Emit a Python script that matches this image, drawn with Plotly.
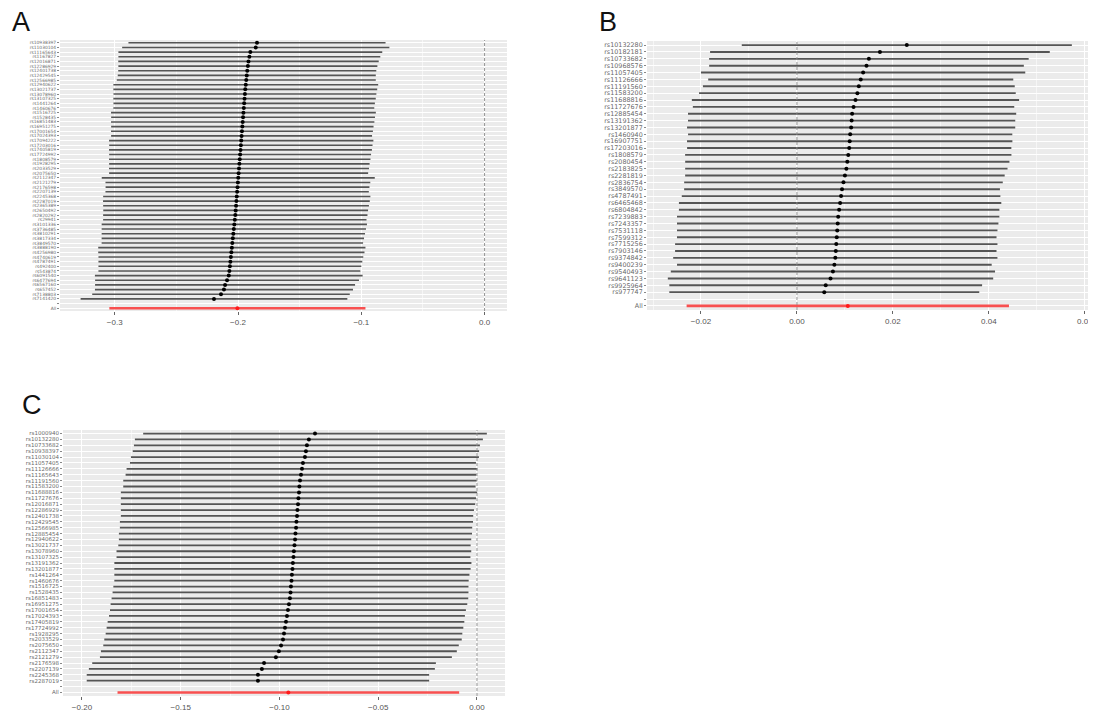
import plotly.graph_objects as go

# ---------------- Panel A ----------------
snps_a = ["rs10938397", "rs11030104", "rs11165643", "rs1167827", "rs12016871", "rs12286929",
          "rs12401738", "rs12429545", "rs12566985", "rs12940622", "rs13021737", "rs13078960",
          "rs13107325", "rs1441264", "rs1460676", "rs1516725", "rs1528435", "rs16851483",
          "rs16951275", "rs17001654", "rs17024393", "rs17094222", "rs17203016", "rs17405819",
          "rs17724992", "rs1808579", "rs1928295", "rs2033529", "rs2075650", "rs2112347",
          "rs2121279", "rs2176598", "rs2207139", "rs2245368", "rs2287019", "rs2365389",
          "rs2650492", "rs2820292", "rs29941", "rs3101336", "rs3736485", "rs3810291",
          "rs3817334", "rs3849570", "rs3888190", "rs4256980", "rs4740619", "rs4787491",
          "rs492400", "rs543874", "rs6091540", "rs6477694", "rs6567160", "rs657452",
          "rs7138803", "rs7141420"]
beta_a = [-0.1846, -0.1856, -0.1900, -0.1908, -0.1915, -0.1920, -0.1925, -0.1929, -0.1933, -0.1937,
          -0.1941, -0.1944, -0.1947, -0.1950, -0.1953, -0.1956, -0.1959, -0.1962, -0.1965, -0.1968,
          -0.1971, -0.1974, -0.1977, -0.1980, -0.1983, -0.1986, -0.1989, -0.1992, -0.1995, -0.1998,
          -0.2001, -0.2004, -0.2007, -0.2010, -0.2013, -0.2016, -0.2019, -0.2022, -0.2026, -0.2030,
          -0.2034, -0.2038, -0.2042, -0.2046, -0.2050, -0.2054, -0.2058, -0.2062, -0.2066, -0.2070,
          -0.2075, -0.2089, -0.2105, -0.2114, -0.2138, -0.2195]
se_a = [0.0532, 0.0553, 0.0546, 0.0542, 0.0539, 0.0536, 0.0534, 0.0534, 0.0536, 0.0548,
        0.0546, 0.0544, 0.0543, 0.0541, 0.0540, 0.0548, 0.0546, 0.0545, 0.0543, 0.0542,
        0.0540, 0.0547, 0.0545, 0.0544, 0.0542, 0.0541, 0.0539, 0.0538, 0.0536, 0.0565,
        0.0548, 0.0546, 0.0545, 0.0553, 0.0552, 0.0550, 0.0548, 0.0547, 0.0545, 0.0549,
        0.0547, 0.0545, 0.0543, 0.0541, 0.0553, 0.0551, 0.0548, 0.0546, 0.0544, 0.0542,
        0.0554, 0.0546, 0.0538, 0.0534, 0.0533, 0.0552]
all_a = (-0.2005, 0.0530)

# ---------------- Panel B ----------------
snps_b = ["rs10132280", "rs10182181", "rs10733682", "rs10968576", "rs11057405", "rs11126666",
          "rs11191560", "rs11583200", "rs11688816", "rs11727676", "rs12885454", "rs13191362",
          "rs13201877", "rs1460940", "rs16907751", "rs17203016", "rs1808579", "rs2080454",
          "rs2183825", "rs2281819", "rs2836754", "rs3849570", "rs4787491", "rs6465468",
          "rs6804842", "rs7239883", "rs7243357", "rs7531118", "rs7599312", "rs7715256",
          "rs7903146", "rs9374842", "rs9400239", "rs9540493", "rs9641123", "rs9925964",
          "rs977747"]
beta_b = [0.0229, 0.0173, 0.0150, 0.0145, 0.0138, 0.0133, 0.0129, 0.0126, 0.0122, 0.0118,
          0.0115, 0.0114, 0.0113, 0.0111, 0.0110, 0.0109, 0.0107, 0.0105, 0.0103, 0.0100,
          0.0097, 0.0094, 0.0092, 0.0090, 0.0088, 0.0086, 0.0085, 0.0084, 0.0083, 0.0082,
          0.0081, 0.0080, 0.0078, 0.0075, 0.0070, 0.0060, 0.0057]
se_b = [0.01755, 0.01806, 0.01699, 0.01673, 0.01724, 0.01622, 0.01658, 0.01684, 0.01740, 0.01709,
        0.01745, 0.01740, 0.01745, 0.01724, 0.01730, 0.01724, 0.01735, 0.01724, 0.01714, 0.01699,
        0.01694, 0.01679, 0.01694, 0.01714, 0.01704, 0.01714, 0.01709, 0.01704, 0.01699, 0.01714,
        0.01709, 0.01724, 0.01673, 0.01724, 0.01730, 0.01663, 0.01648]
all_b = (0.0106, 0.01714)

# ---------------- Panel C ----------------
snps_c = ["rs1000940", "rs10132280", "rs10733682", "rs10938397", "rs11030104", "rs11057405",
          "rs11126666", "rs11165643", "rs11191560", "rs11583200", "rs11688816", "rs11727676",
          "rs12016871", "rs12286929", "rs12401738", "rs12429545", "rs12566985", "rs12885454",
          "rs12940622", "rs13021737", "rs13078960", "rs13107325", "rs13191362", "rs13201877",
          "rs1441264", "rs1460676", "rs1516725", "rs1528435", "rs16851483", "rs16951275",
          "rs17001654", "rs17024393", "rs17405819", "rs17724992", "rs1928295", "rs2033529",
          "rs2075650", "rs2112347", "rs2121279", "rs2176598", "rs2207139", "rs2245368",
          "rs2287019"]
beta_c = [-0.0820, -0.0851, -0.0861, -0.0866, -0.0871, -0.0881, -0.0886, -0.0891, -0.0896, -0.0899,
          -0.0901, -0.0904, -0.0906, -0.0909, -0.0911, -0.0914, -0.0916, -0.0919, -0.0921, -0.0924,
          -0.0927, -0.0929, -0.0932, -0.0934, -0.0937, -0.0939, -0.0942, -0.0944, -0.0947, -0.0952,
          -0.0957, -0.0962, -0.0967, -0.0972, -0.0977, -0.0982, -0.0992, -0.1003, -0.1018, -0.1078,
          -0.1089, -0.1109, -0.1109]
se_c = [0.04439, 0.04495, 0.04469, 0.04474, 0.04495, 0.04469, 0.04531, 0.04531, 0.04566, 0.04551,
        0.04602, 0.04587, 0.04577, 0.04561, 0.04551, 0.04561, 0.04551, 0.04561, 0.04551, 0.04551,
        0.04582, 0.04571, 0.04612, 0.04602, 0.04587, 0.04577, 0.04587, 0.04597, 0.04607, 0.04607,
        0.04597, 0.04597, 0.04607, 0.04607, 0.04607, 0.04617, 0.04592, 0.04597, 0.04546, 0.04439,
        0.04469, 0.04423, 0.04423]
all_c = (-0.0955, 0.04413)

# page body has an 8px default margin: figure coords = screen coords - 8
OFF = 8
W, H = 1088, 705
FONT = "Liberation Sans, Arial, sans-serif"
LABEL_FONT = "DejaVu Sans, Liberation Sans, sans-serif"

fig = go.Figure()
layout = dict(width=W, height=H, autosize=False, margin=dict(l=0, r=0, t=0, b=0, pad=0),
              paper_bgcolor="white", plot_bgcolor="#EBEBEB", showlegend=False,
              font=dict(family=FONT))
shapes = []
annotations = []


def add_panel(k, labels, beta, se, allv, xrange, dtick, minor, fmt, px_x, px_y, yfont, lw, msize):
    s = "" if k == 1 else str(k)
    n = len(labels)
    ys = [n + 2 - i for i in range(n)]
    fig.add_trace(go.Scatter(
        x=beta, y=ys, mode="markers", xaxis="x" + s, yaxis="y" + s,
        marker=dict(color="black", size=msize),
        error_x=dict(type="data", array=[1.96 * v for v in se], color="#555555",
                     thickness=lw, width=0)))
    fig.add_trace(go.Scatter(
        x=[allv[0]], y=[1], mode="markers", xaxis="x" + s, yaxis="y" + s,
        marker=dict(color="#ff1a1a", size=msize),
        error_x=dict(type="data", array=[1.96 * allv[1]], color="#f85050",
                     thickness=lw + 0.8, width=0)))
    x0, x1 = px_x[0] - OFF, px_x[1] - OFF
    y0, y1 = px_y[0] - OFF, px_y[1] - OFF
    layout["xaxis" + s] = dict(
        domain=[x0 / W, x1 / W], anchor="y" + s, range=xrange,
        tick0=0, dtick=dtick, tickformat=fmt, ticks="outside", ticklen=3, tickcolor="#666",
        tickfont=dict(size=8, color="#555", family=FONT),
        showgrid=True, gridcolor="white", gridwidth=1, zeroline=False,
        minor=dict(dtick=minor, tick0=0, showgrid=True, gridcolor="#F6F6F6", gridwidth=0.6),
        showline=False, fixedrange=True, automargin=False)
    layout["yaxis" + s] = dict(
        domain=[1 - y1 / H, 1 - y0 / H], anchor="x" + s, range=[0.4, n + 2.6],
        tickmode="array", tickvals=[1, 2] + ys, ticktext=["All", ""] + labels,
        ticks="outside", ticklen=2, tickcolor="#888",
        tickfont=dict(size=yfont, color="#6a6a6a", family=LABEL_FONT),
        showgrid=True, gridcolor="white", gridwidth=1, zeroline=False,
        showline=False, fixedrange=True, automargin=False)
    shapes.append(dict(type="line", xref="x" + s, yref="y" + s + " domain",
                       x0=0, x1=0, y0=0, y1=1,
                       line=dict(color="#8a8a8a", width=0.9, dash="3px,2px")))


add_panel(1, snps_a, beta_a, se_a, all_a, [-0.3444, 0.0182], 0.1, 0.05, ".1f",
          (60, 507), (40, 311), 4.4, 1.6, 4)
add_panel(2, snps_b, beta_b, se_b, all_b, [-0.03125, 0.0615], 0.02, 0.01, ".2f",
          (647, 1092), (41, 310), 6.4, 1.9, 4)
add_panel(3, snps_c, beta_c, se_c, all_c, [-0.2096, 0.0142], 0.05, 0.025, ".2f",
          (63, 505), (430, 696), 5.5, 1.8, 4)

for letter, x, y in [("A", 2, -3), ("B", 589, -3), ("C", 12, 380)]:
    annotations.append(dict(text=letter, xref="paper", yref="paper", x=x / W, y=1 - y / H,
                            xanchor="left", yanchor="top", showarrow=False,
                            font=dict(size=27, color="#111", family=FONT)))

layout["shapes"] = shapes
layout["annotations"] = annotations
fig.update_layout(**layout)
fig.write_html("out.html")
